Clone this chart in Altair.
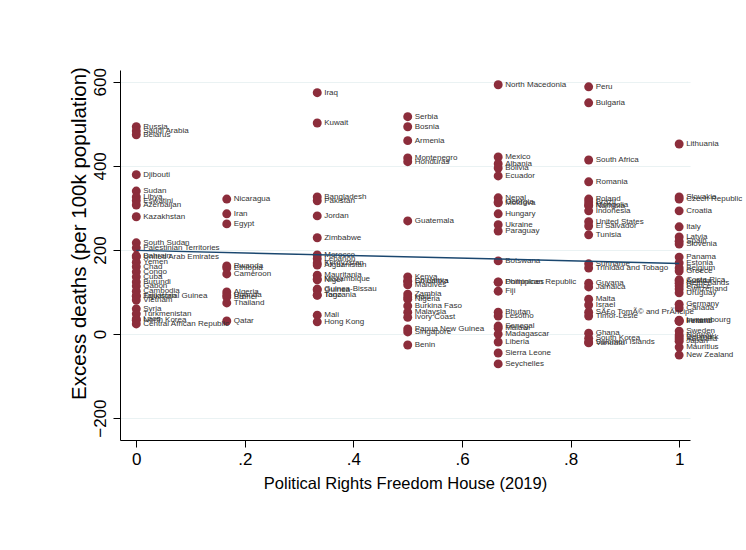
import altair as alt
import pandas as pd

# Freedom House political-rights levels (rescaled 0..1, seven steps)
rights_levels = [0, 1 / 6, 2 / 6, 3 / 6, 4 / 6, 5 / 6, 1]

names_0 = ["Russia", "Saudi Arabia", "Belarus", "Djibouti", "Sudan", "Libya", "Eswatini",
           "Azerbaijan", "Kazakhstan", "South Sudan", "Palestinian Territories", "Bahrain",
           "United Arab Emirates", "Yemen", "Chad", "Congo", "Cuba", "Burundi", "Gabon",
           "Cambodia", "Equatorial Guinea", "Tajikistan", "Vietnam", "Syria", "Turkmenistan",
           "Laos", "North Korea", "Central African Republic"]
deaths_0 = [493, 483, 474, 379, 340, 326, 317, 307, 279, 217, 205, 186, 183, 171, 160, 148,
            136, 124, 114, 102, 90, 91, 81, 60, 48, 36, 33, 24]

names_1 = ["Nicaragua", "Iran", "Egypt", "Rwanda", "Ethiopia", "Cameroon", "Algeria",
           "Uganda", "Brunei", "Thailand", "Qatar"]
deaths_1 = [321, 286, 262, 162, 157, 143, 100, 93, 88, 74, 31]

names_2 = ["Iraq", "Kuwait", "Bangladesh", "Pakistan", "Jordan", "Zimbabwe", "Morocco",
           "Lebanon", "Kyrgyzstan", "Afghanistan", "Mauritania", "Mozambique", "Niger",
           "Guinea-Bissau", "Guinea", "Togo", "Tanzania", "Mali", "Hong Kong"]
deaths_2 = [574, 502, 326, 317, 281, 229, 188, 179, 169, 164, 140, 131, 129, 107, 105, 93,
            92, 45, 29]

names_3 = ["Serbia", "Bosnia", "Armenia", "Montenegro", "Honduras", "Guatemala", "Kenya",
           "Colombia", "Sri Lanka", "Maldives", "Zambia", "Haiti", "Nigeria", "Burkina Faso",
           "Malaysia", "Ivory Coast", "Papua New Guinea", "Singapore", "Benin"]
deaths_3 = [517, 493, 460, 419, 410, 269, 136, 126, 125, 117, 95, 88, 83, 67, 52, 40, 12,
            5, -26]

names_4 = ["North Macedonia", "Mexico", "Albania", "Bolivia", "Ecuador", "Nepal", "Georgia",
           "Moldova", "Hungary", "Ukraine", "Paraguay", "Botswana", "Philippines",
           "Dominican Republic", "Fiji", "Bhutan", "Lesotho", "Senegal", "Malawi",
           "Madagascar", "Liberia", "Sierra Leone", "Seychelles"]
deaths_4 = [593, 421, 405, 395, 376, 324, 314, 312, 286, 260, 245, 174, 124, 123, 102, 52,
            43, 19, 14, 0, -19, -45, -71]

names_5 = ["Peru", "Bulgaria", "South Africa", "Romania", "Poland", "Brazil", "Mongolia",
           "Namibia", "Indonesia", "United States", "El Salvador", "Tunisia", "Suriname",
           "Trinidad and Tobago", "Guyana", "Jamaica", "Malta", "Israel",
           "SÃ£o TomÃ© and PrÃ\u00adncipe", "Timor-Leste", "Ghana", "South Korea",
           "Solomon Islands", "Vanuatu"]
deaths_5 = [588, 550, 414, 362, 321, 314, 307, 305, 293, 267, 257, 236, 167, 157, 121, 112,
            83, 69, 52, 43, 2, -10, -19, -21]

names_6 = ["Lithuania", "Slovakia", "Czech Republic", "Croatia", "Italy", "Latvia", "Spain",
           "Slovenia", "Panama", "Estonia", "Belgium", "Greece", "Costa Rica", "Austria",
           "Netherlands", "France", "Switzerland", "Uruguay", "Germany", "Canada",
           "Luxembourg", "Finland", "Ireland", "Sweden", "Norway", "Denmark", "Australia",
           "Japan", "Mauritius", "New Zealand"]
deaths_6 = [452, 326, 321, 293, 255, 231, 221, 214, 183, 169, 157, 150, 129, 126, 121, 114,
            107, 98, 71, 62, 33, 31, 30, 7, -2, -7, -12, -17, -31, -50]

# Linear fit line endpoints
fit_x = [0, 1]
fit_y = [199, 168]

groups = [(names_0, deaths_0), (names_1, deaths_1), (names_2, deaths_2), (names_3, deaths_3),
          (names_4, deaths_4), (names_5, deaths_5), (names_6, deaths_6)]
rows = []
for level, (names, deaths) in zip(rights_levels, groups):
    for n, d in zip(names, deaths):
        rows.append({"rights": level, "deaths": d, "country": n})
df = pd.DataFrame(rows)
fit_df = pd.DataFrame({"rights": fit_x, "deaths": fit_y})

x_scale = alt.Scale(domain=[-0.03, 1.02], nice=False, zero=False)
y_scale = alt.Scale(domain=[-252, 628], nice=False, zero=False)

x_enc = alt.X(
    "rights:Q", scale=x_scale,
    axis=alt.Axis(
        title="Political Rights Freedom House (2019)",
        values=[0, 0.2, 0.4, 0.6, 0.8, 1],
        labelExpr="replace(toString(datum.value), /^0\\./, '.')",
        grid=False, tickSize=7, labelPadding=4, titlePadding=8,
        titleFontSize=16.5,
    ),
)
y_enc = alt.Y(
    "deaths:Q", scale=y_scale,
    axis=alt.Axis(
        title="Excess deaths (per 100k population)",
        values=[-200, 0, 200, 400, 600],
        labelAngle=270, labelAlign="center", labelBaseline="bottom",
        grid=True, gridColor="#eaf2f3", gridWidth=1.2,
        tickSize=7, labelPadding=4,
        titleFontSize=20.5, titleAngle=270, titleAlign="center",
        titleBaseline="bottom", titleX=-31, titleY=163,
    ),
)

points = alt.Chart(df).mark_circle(size=80, color="#8c2d3b", opacity=1).encode(
    x=x_enc, y=y_enc
)
labels = alt.Chart(df).mark_text(
    align="left", baseline="middle", dx=7, fontSize=8, color="#333333",
    font="Liberation Sans",
).encode(x="rights:Q", y="deaths:Q", text="country:N")
fit = alt.Chart(fit_df).mark_line(color="#1a476f", strokeWidth=1.5).encode(
    x="rights:Q", y="deaths:Q"
)

chart = (
    alt.layer(points, labels, fit)
    .properties(
        width=570, height=370,
        autosize=alt.AutoSizeParams(type="none"),
        padding={"left": 120, "top": 70, "right": 56, "bottom": 110},
        background="white",
    )
    .configure_view(strokeWidth=0)
    .configure_axis(
        labelFont="Liberation Sans", titleFont="Liberation Sans",
        labelFontSize=17, titleFontWeight="normal",
        labelColor="black", titleColor="black",
        domainColor="black", tickColor="black", domainWidth=1, tickWidth=1,
    )
)

chart.save("out.html", embed_options={"renderer": "svg", "actions": False})
